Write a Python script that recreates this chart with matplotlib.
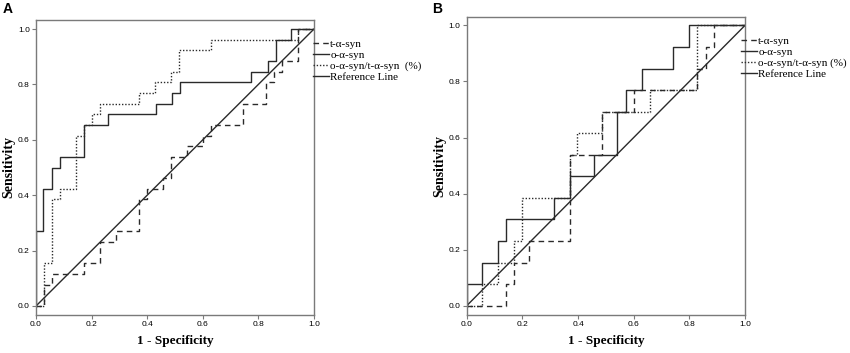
import matplotlib
matplotlib.use("Agg")
import matplotlib.pyplot as plt

# ROC step corners (1 - specificity, sensitivity)
a_t_fpr = [0, 0.029, 0.029, 0.057, 0.057, 0.171, 0.171, 0.229, 0.229, 0.286, 0.286, 0.371, 0.371,
           0.4, 0.4, 0.457, 0.457, 0.486, 0.486, 0.543, 0.543, 0.6, 0.6, 0.629, 0.629, 0.743, 0.743,
           0.829, 0.829, 0.857, 0.857, 0.886, 0.886, 0.943, 0.943, 1]
a_t_tpr = [0, 0, 0.077, 0.077, 0.115, 0.115, 0.154, 0.154, 0.231, 0.231, 0.269, 0.269, 0.385,
           0.385, 0.423, 0.423, 0.462, 0.462, 0.538, 0.538, 0.577, 0.577, 0.615, 0.615, 0.654, 0.654, 0.731,
           0.731, 0.808, 0.808, 0.846, 0.846, 0.885, 0.885, 1, 1]

a_o_fpr = [0, 0, 0.026, 0.026, 0.057, 0.057, 0.087, 0.087, 0.173, 0.173, 0.259, 0.259, 0.432, 0.432,
           0.49, 0.49, 0.517, 0.517, 0.775, 0.775, 0.833, 0.833, 0.863, 0.863, 0.917, 0.917, 1]
a_o_tpr = [0, 0.27, 0.27, 0.423, 0.423, 0.5, 0.5, 0.538, 0.538, 0.654, 0.654, 0.692, 0.692, 0.731,
           0.731, 0.769, 0.769, 0.808, 0.808, 0.846, 0.846, 0.885, 0.885, 0.962, 0.962, 1, 1]

a_r_fpr = [0, 0.029, 0.029, 0.057, 0.057, 0.086, 0.086, 0.143, 0.143, 0.171, 0.171, 0.2, 0.2, 0.229,
           0.229, 0.371, 0.371, 0.429, 0.429, 0.486, 0.486, 0.514, 0.514, 0.629, 0.629, 0.943, 0.943, 1]
a_r_tpr = [0, 0, 0.154, 0.154, 0.385, 0.385, 0.423, 0.423, 0.615, 0.615, 0.654, 0.654, 0.692, 0.692,
           0.731, 0.731, 0.769, 0.769, 0.808, 0.808, 0.846, 0.846, 0.923, 0.923, 0.962, 0.962, 1, 1]

b_t_fpr = [0, 0.141, 0.141, 0.17, 0.17, 0.225, 0.225, 0.372, 0.372, 0.485, 0.485, 0.6, 0.6, 0.827,
           0.827, 0.86, 0.86, 0.887, 0.887, 1]
b_t_tpr = [0, 0, 0.077, 0.077, 0.154, 0.154, 0.231, 0.231, 0.538, 0.538, 0.692, 0.692, 0.769, 0.769,
           0.846, 0.846, 0.923, 0.923, 1, 1]

b_o_fpr = [0, 0, 0.056, 0.056, 0.114, 0.114, 0.141, 0.141, 0.314, 0.314, 0.372, 0.372, 0.456, 0.456,
           0.539, 0.539, 0.572, 0.572, 0.629, 0.629, 0.743, 0.743, 0.8, 0.8, 1]
b_o_tpr = [0, 0.077, 0.077, 0.154, 0.154, 0.231, 0.231, 0.308, 0.308, 0.385, 0.385, 0.462, 0.462, 0.538,
           0.538, 0.692, 0.692, 0.769, 0.769, 0.846, 0.846, 0.923, 0.923, 1, 1]

b_r_fpr = [0, 0.056, 0.056, 0.114, 0.114, 0.17, 0.17, 0.198, 0.198, 0.372, 0.372, 0.398, 0.398, 0.485,
           0.485, 0.659, 0.659, 0.827, 0.827, 1]
b_r_tpr = [0, 0, 0.077, 0.077, 0.154, 0.154, 0.231, 0.231, 0.385, 0.385, 0.538, 0.538, 0.615, 0.615,
           0.692, 0.692, 0.769, 0.769, 1, 1]

ref_line = [0, 1]
ticks = [0.0, 0.2, 0.4, 0.6, 0.8, 1.0]
tick_labels = ["0.0", "0.2", "0.4", "0.6", "0.8", "1.0"]
labels_a = ["t-\u03b1-syn", "o-\u03b1-syn", "o-\u03b1-syn/t-\u03b1-syn  (%)", "Reference Line"]
labels_b = ["t-\u03b1-syn", "o-\u03b1-syn", "o-\u03b1-syn/t-\u03b1-syn (%)", "Reference Line"]

LINE = "#2a2a2a"
SPINE = "#7a7a7a"
SERIF = ["Liberation Serif", "DejaVu Serif"]
SANS = ["Liberation Sans", "DejaVu Sans"]


def draw_panel(ax, t, o, r, legend_anchor, legend_labels):
    h1, = ax.plot(t[0], t[1], color=LINE, lw=1.0, linestyle=(0, (4, 3)))
    h2, = ax.plot(o[0], o[1], color=LINE, lw=1.0)
    h3, = ax.plot(r[0], r[1], color=LINE, lw=1.0, linestyle=(0, (1, 1.3)))
    h4, = ax.plot(ref_line, ref_line, color=LINE, lw=1.0)
    ax.set_xlim(0, 1)
    ax.set_xticks(ticks)
    ax.set_yticks(ticks)
    ax.set_xticklabels(tick_labels, family=SANS, fontsize=6)
    ax.set_yticklabels(tick_labels, family=SANS, fontsize=6)
    ax.tick_params(direction="out", length=3, width=0.8, color=SPINE, pad=1.5)
    for s in ax.spines.values():
        s.set_color(SPINE)
        s.set_linewidth(1.0)
    ax.set_xlabel("1 - Specificity", family=SERIF, fontsize=9.5, fontweight="bold", labelpad=5)
    ax.set_ylabel("Sensitivity", family=SERIF, fontsize=10, fontweight="bold")
    ax.yaxis.set_label_coords(-0.075, 0.5)
    fig = ax.figure
    fig.legend([h1, h2, h3, h4], legend_labels, loc="upper left",
               bbox_to_anchor=legend_anchor, bbox_transform=fig.transFigure,
               frameon=False, prop={"family": SERIF, "size": 8},
               handlelength=1.4, handletextpad=0.15, labelspacing=0.1,
               borderpad=0, borderaxespad=0)


fig = plt.figure(figsize=(8.5, 3.53), dpi=100)
W, H = 850.0, 353.0

ax_a = fig.add_axes([36 / W, 1 - 315 / H, 278 / W, 295 / H])
ax_a.set_ylim(-0.0325, 1.0325)
draw_panel(ax_a, (a_t_fpr, a_t_tpr), (a_o_fpr, a_o_tpr), (a_r_fpr, a_r_tpr),
           (313 / W, 1 - 39.5 / H), labels_a)

ax_b = fig.add_axes([466.7 / W, 1 - 315 / H, 278.3 / W, 298 / H])
ax_b.set_ylim(-0.033, 1.03)
draw_panel(ax_b, (b_t_fpr, b_t_tpr), (b_o_fpr, b_o_tpr), (b_r_fpr, b_r_tpr),
           (741 / W, 1 - 36 / H), labels_b)

fig.text(8 / W, 1 - 9 / H, "A", fontsize=10, fontweight="bold", family=SANS,
         ha="center", va="center")
fig.text(437 / W, 1 - 9 / H, "B", fontsize=10, fontweight="bold", family=SANS,
         ha="center", va="center")

fig.savefig("out.png", dpi=100)
